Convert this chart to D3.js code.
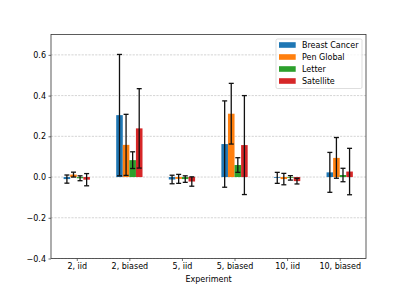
<!DOCTYPE html>
<html>
<head>
<meta charset="utf-8">
<script src="https://cdn.jsdelivr.net/npm/d3@7"></script>
<style>
  body { margin: 0; background: #fff; }
  svg { display: block; font-family: "DejaVu Sans", sans-serif; }
</style>
</head>
<body>
<div id="chart"></div>
<script>
const experiments = ["2, iid", "2, biased", "5, iid", "5, biased", "10, iid", "10, biased"];
const datasets = ["Breast Cancer", "Pen Global", "Letter", "Satellite"];
const colors = ["#1f77b4", "#ff7f0e", "#2ca02c", "#d62728"];

const breastCancer = [-0.010, 0.304, -0.012, 0.162, -0.004, 0.023];
const breastCancerErr = [0.020, 0.298, 0.021, 0.212, 0.027, 0.098];
const penGlobal = [0.012, 0.158, -0.009, 0.311, -0.010, 0.094];
const penGlobalErr = [0.012, 0.150, 0.022, 0.149, 0.028, 0.100];
const letter = [-0.006, 0.083, -0.010, 0.059, -0.004, 0.010];
const letterErr = [0.012, 0.041, 0.016, 0.036, 0.011, 0.033];
const satellite = [-0.013, 0.239, -0.022, 0.157, -0.020, 0.027];
const satelliteErr = [0.030, 0.195, 0.023, 0.243, 0.014, 0.114];

const yTicks = [-0.4, -0.2, 0.0, 0.2, 0.4, 0.6];

const means = [breastCancer, penGlobal, letter, satellite];
const errs = [breastCancerErr, penGlobalErr, letterErr, satelliteErr];

const W = 407, H = 291;
const margin = { top: 34.5, right: 41, bottom: 32.5, left: 51 };
const barW = 0.125;

const svg = d3.select("#chart").append("svg")
  .attr("width", W)
  .attr("height", H);

const x = d3.scaleLinear()
  .domain([-0.49, 5.5])
  .range([margin.left, W - margin.right]);

const y = d3.scaleLinear()
  .domain([-0.4, 0.7])
  .range([H - margin.bottom, margin.top]);

// grid
svg.selectAll("line.grid")
  .data(yTicks)
  .enter().append("line")
  .attr("class", "grid")
  .attr("x1", margin.left)
  .attr("x2", W - margin.right)
  .attr("y1", d => y(d))
  .attr("y2", d => y(d))
  .style("stroke", "#b8b8b8")
  .style("stroke-width", 0.6)
  .style("stroke-dasharray", "2.2 1.2");

// bars + error bars
const rows = [];
datasets.forEach((name, s) => {
  experiments.forEach((e, i) => {
    rows.push({ s, i, v: means[s][i], err: errs[s][i] });
  });
});

const cx = d => x(d.i + (d.s - 1.5) * barW);

svg.selectAll("rect.bar")
  .data(rows)
  .enter().append("rect")
  .attr("class", "bar")
  .attr("x", d => x(d.i + (d.s - 2) * barW))
  .attr("width", d => x(d.i + (d.s - 1) * barW) - x(d.i + (d.s - 2) * barW))
  .attr("y", d => Math.min(y(d.v), y(0)))
  .attr("height", d => Math.abs(y(d.v) - y(0)))
  .attr("fill", d => colors[d.s]);

const eb = svg.selectAll("g.err")
  .data(rows)
  .enter().append("g")
  .attr("class", "err")
  .style("stroke", "#111")
  .style("stroke-width", 1.3);

eb.append("line")
  .attr("x1", cx).attr("x2", cx)
  .attr("y1", d => y(d.v - d.err))
  .attr("y2", d => y(d.v + d.err));
eb.append("line")
  .attr("x1", d => cx(d) - 2.5).attr("x2", d => cx(d) + 2.5)
  .attr("y1", d => y(d.v + d.err)).attr("y2", d => y(d.v + d.err));
eb.append("line")
  .attr("x1", d => cx(d) - 2.5).attr("x2", d => cx(d) + 2.5)
  .attr("y1", d => y(d.v - d.err)).attr("y2", d => y(d.v - d.err));

// axes
const fmt = d => d3.format(".1f")(d).replace("-", "\u2212");

svg.append("g")
  .attr("transform", `translate(${margin.left},0)`)
  .call(d3.axisLeft(y).tickValues(yTicks).tickFormat(fmt).tickSize(2.5).tickPadding(2.5))
  .call(g => g.select(".domain").remove())
  .call(g => g.selectAll("line").style("stroke", "#333").style("stroke-width", 0.7))
  .call(g => g.selectAll("text").style("font-size", "8px").style("fill", "#000")
    .style("font-family", "DejaVu Sans"));

svg.append("g")
  .attr("transform", `translate(0,${H - margin.bottom})`)
  .call(d3.axisBottom(x).tickValues(d3.range(experiments.length))
    .tickFormat(i => experiments[i]).tickSize(2.5).tickPadding(2.5))
  .call(g => g.select(".domain").remove())
  .call(g => g.selectAll("line").style("stroke", "#333").style("stroke-width", 0.7))
  .call(g => g.selectAll("text").style("font-size", "8px").style("fill", "#000")
    .style("font-family", "DejaVu Sans"));

// frame
svg.append("rect")
  .attr("x", margin.left)
  .attr("y", margin.top)
  .attr("width", W - margin.left - margin.right)
  .attr("height", H - margin.top - margin.bottom)
  .attr("fill", "none")
  .style("stroke", "#333")
  .style("stroke-width", 0.8);

svg.append("text")
  .attr("x", (margin.left + W - margin.right) / 2)
  .attr("y", 282)
  .attr("text-anchor", "middle")
  .style("font-size", "8px")
  .text("Experiment");

// legend
const lg = svg.append("g").attr("transform", "translate(276,39)");
lg.append("rect")
  .attr("width", 86)
  .attr("height", 49.5)
  .attr("rx", 1.5)
  .attr("fill", "#fff")
  .attr("fill-opacity", 0.8)
  .style("stroke", "#d0d0d0")
  .style("stroke-width", 0.7);

const items = lg.selectAll("g.item")
  .data(datasets)
  .enter().append("g")
  .attr("class", "item")
  .attr("transform", (d, i) => `translate(3,${6 + i * 12})`);

items.append("rect")
  .attr("x", 0)
  .attr("y", -2.8)
  .attr("width", 16.7)
  .attr("height", 5.6)
  .attr("fill", (d, i) => colors[i]);

items.append("text")
  .attr("x", 23)
  .attr("dy", "0.35em")
  .style("font-size", "8px")
  .text(d => d);
</script>
</body>
</html>
